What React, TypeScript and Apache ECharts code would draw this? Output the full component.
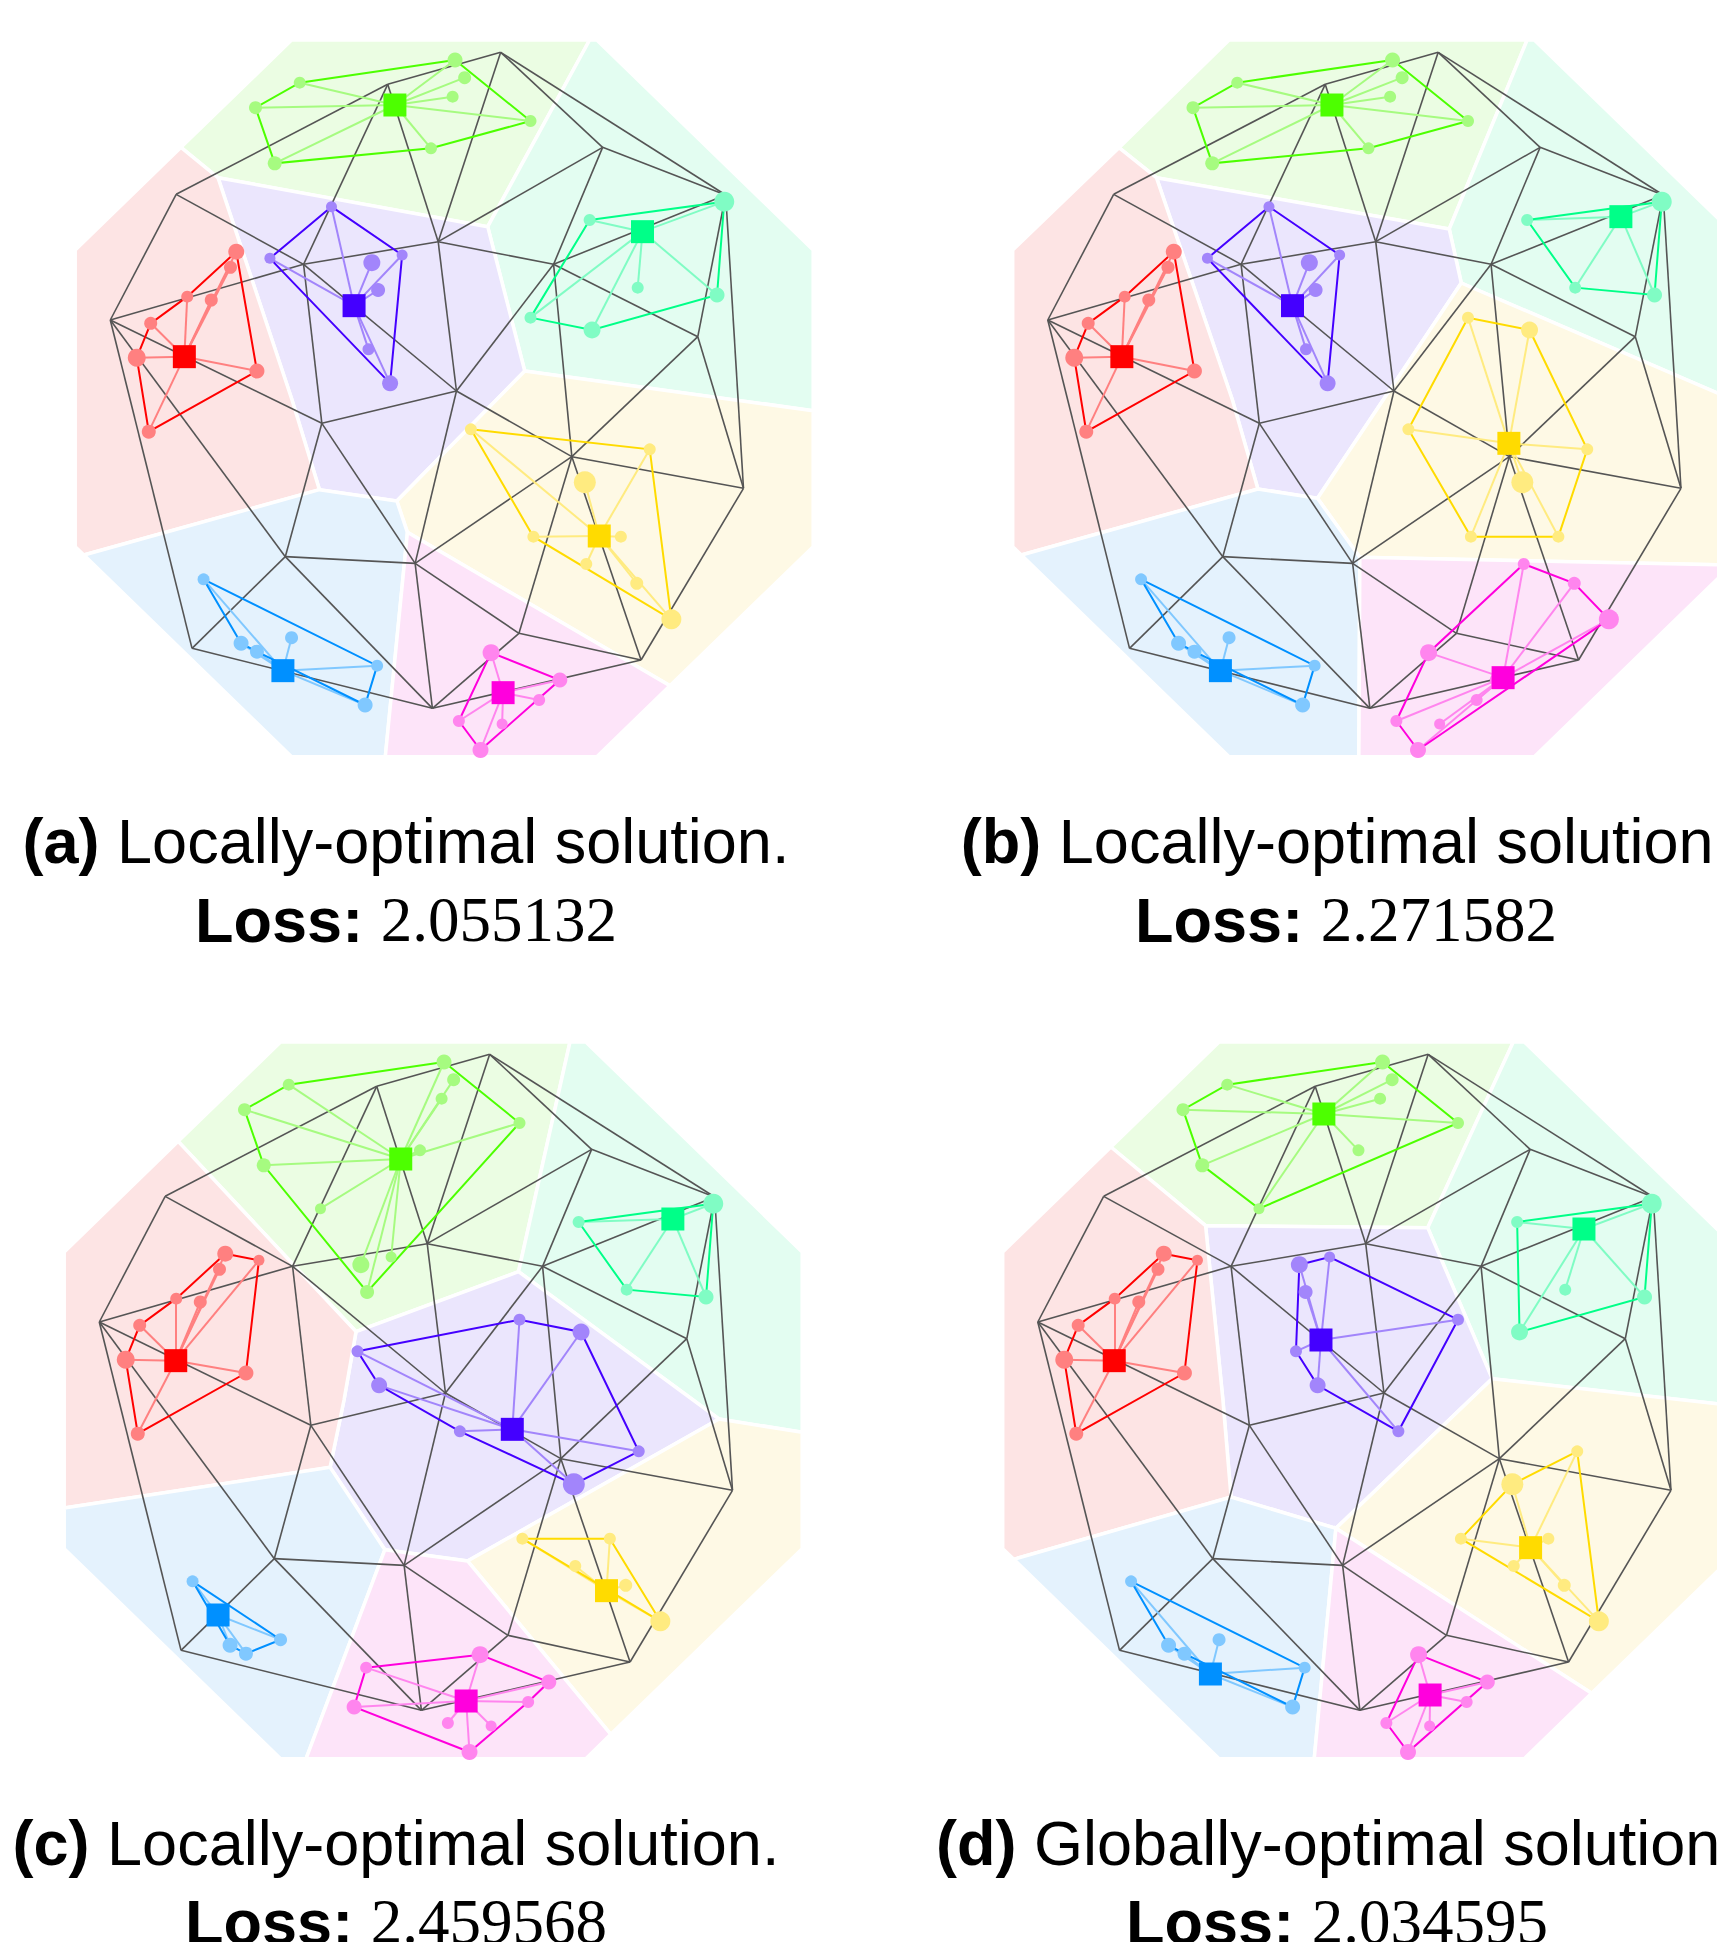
import React, { useEffect, useRef } from "react";
import * as echarts from "echarts";

// ---------------- shared geometry (panel frame units: x 0..1560, y 0..2190) ----------------
const MESH_NODES: [number, number][] = [
  [900, 52], [665, 148], [1112, 337], [225, 478], [1368, 480],
  [770, 620], [1010, 688], [490, 688], [88, 855], [1310, 905],
  [808, 1068], [528, 1165], [1048, 1265], [1405, 1360], [452, 1565],
  [722, 1585], [938, 1795], [258, 1840], [1192, 1875], [758, 2020],
];

const MESH_EDGES: [number, number][] = [
  [0, 1], [0, 2], [0, 4], [0, 5], [1, 3], [1, 5], [1, 7], [2, 4], [2, 5], [2, 6], [3, 7], [3, 8],
  [4, 6], [4, 9], [4, 13], [5, 6], [5, 7], [5, 10], [6, 9], [6, 10], [6, 12], [7, 8], [7, 10], [7, 11],
  [8, 11], [8, 14], [8, 17], [9, 12], [9, 13], [10, 11], [10, 12], [10, 15], [11, 14], [11, 15],
  [12, 13], [12, 15], [12, 16], [12, 18], [13, 18], [14, 15], [14, 17], [14, 19], [15, 16],
  [15, 19], [16, 18], [16, 19], [17, 19], [18, 19],
];

const POINTS: [number, number][] = [
  [805, 75], [482, 143], [825, 128], [800, 185], [390, 218], [962, 258], [755, 340], [430, 385],
  [548, 515], [420, 670], [695, 660], [632, 683], [645, 765], [625, 943], [670, 1045],
  [350, 650], [338, 697], [248, 785], [298, 795], [172, 865], [143, 968], [393, 1008], [168, 1190],
  [1365, 500], [1085, 555], [1185, 758], [1350, 780], [962, 848], [1090, 885],
  [838, 1183], [1210, 1243], [1075, 1342], [968, 1505], [1150, 1505], [1078, 1587], [1183, 1645], [1255, 1753],
  [282, 1633], [360, 1825], [393, 1850], [465, 1808], [643, 1892], [618, 2010],
  [880, 1853], [1023, 1935], [980, 1995], [903, 2067], [813, 2058], [858, 2145],
];

const POINT_WEIGHT: number[] = [
  15, 12, 13, 12, 13, 12, 12, 14,
  11, 11, 11, 17, 14, 12, 16,
  16, 13, 12, 13, 13, 18, 15, 14,
  20, 12, 12, 15, 12, 17,
  12, 12, 22, 12, 12, 12, 13, 20,
  12, 15, 14, 13, 12, 15,
  17, 15, 12, 11, 12, 16,
];

// cluster order: green, teal, purple, red, yellow, blue, pink
const BASE = ["#4dff00", "#00ff88", "#4400ff", "#ff0000", "#ffdb00", "#0090ff", "#ff00dd"];
const LIGHT = ["#a6fb80", "#80fcc4", "#a285fb", "#ff8080", "#ffeb80", "#80c8ff", "#ff85ee"];
const FILL = ["#ebfde3", "#e3fdf1", "#ebe6fd", "#fde4e4", "#fef9e5", "#e4f2fd", "#fde4f9"];

// ---------------- panel (a) ----------------
const A_MEMBERS = [
  [0, 1, 2, 3, 4, 5, 6, 7], [23, 24, 25, 26, 27, 28], [8, 9, 10, 11, 12, 13, 14],
  [15, 16, 17, 18, 19, 20, 21, 22], [29, 30, 31, 32, 33, 34, 35, 36], [37, 38, 39, 40, 41, 42],
  [43, 44, 45, 46, 47, 48],
];
const A_HULLS = [
  [0, 1, 4, 7, 6, 5], [24, 23, 26, 28, 27], [8, 10, 14, 9], [15, 21, 22, 20, 19, 17],
  [29, 30, 36, 32], [37, 41, 42, 39, 38], [43, 44, 48, 47],
];
const A_CENTERS: [number, number][] = [[680, 210], [1195, 590], [595, 812], [242, 965], [1105, 1503], [447, 1907], [905, 1973]];
const A_REGIONS: [number, number][][] = [
  [[465, 15], [1085, 15], [873, 575], [312, 428], [235, 337]],
  [[1085, 15], [1100, 15], [1550, 645], [1550, 1127], [950, 1008], [873, 575]],
  [[312, 428], [873, 575], [950, 1008], [684, 1398], [523, 1364], [466, 1095]],
  [[235, 337], [312, 428], [466, 1095], [523, 1364], [33, 1560], [15, 1535], [15, 645]],
  [[950, 1008], [1550, 1127], [1550, 1535], [1252, 1952], [706, 1492], [684, 1398]],
  [[33, 1560], [523, 1364], [684, 1398], [706, 1492], [660, 2165], [465, 2165]],
  [[706, 1492], [1252, 1952], [1100, 2165], [660, 2165]],
];

// ---------------- panel (b) ----------------
const B_MEMBERS = [
  [0, 1, 2, 3, 4, 5, 6, 7], [23, 24, 25, 26], [8, 9, 10, 11, 12, 13, 14],
  [15, 16, 17, 18, 19, 20, 21, 22], [27, 28, 29, 30, 31, 32, 33], [37, 38, 39, 40, 41, 42],
  [34, 35, 36, 43, 44, 45, 46, 47, 48],
];
const B_HULLS = [
  [0, 1, 4, 7, 6, 5], [24, 23, 26, 25], [8, 10, 14, 9], [15, 21, 22, 20, 19, 17],
  [27, 28, 30, 33, 32, 29], [37, 41, 42, 39, 38], [34, 35, 36, 48, 47, 43],
];
const B_CENTERS: [number, number][] = [[679, 210], [1280, 545], [597, 812], [242, 965], [1047, 1225], [447, 1907], [1035, 1928]];
const B_REGIONS: [number, number][][] = [
  [[465, 15], [1085, 15], [923, 582], [314, 428], [236, 338]],
  [[1085, 15], [1100, 15], [1550, 645], [1550, 1117], [948, 744], [923, 582]],
  [[314, 428], [923, 582], [948, 744], [649, 1390], [525, 1362], [472, 1095]],
  [[236, 338], [314, 428], [472, 1095], [525, 1362], [33, 1560], [15, 1535], [15, 645]],
  [[948, 744], [1550, 1117], [1550, 1535], [1511, 1590], [737, 1567], [649, 1390]],
  [[33, 1560], [525, 1362], [649, 1390], [737, 1567], [735, 2165], [465, 2165]],
  [[737, 1567], [1511, 1590], [1100, 2165], [735, 2165]],
];

// ---------------- panel (c) ----------------
const C_MEMBERS = [
  [0, 1, 2, 3, 4, 5, 6, 7, 8, 10, 11, 12], [23, 24, 25, 26], [13, 14, 27, 28, 29, 30, 31],
  [9, 15, 16, 17, 18, 19, 20, 21, 22], [32, 33, 34, 35, 36], [37, 38, 39, 40],
  [41, 42, 43, 44, 45, 46, 47, 48],
];
const C_HULLS = [
  [0, 1, 4, 7, 12, 5], [24, 23, 26, 25], [13, 27, 28, 30, 31, 29, 14], [15, 9, 21, 22, 20, 19, 17],
  [32, 33, 36], [37, 40, 39, 38], [41, 43, 44, 45, 48, 42],
];
const C_CENTERS: [number, number][] = [[715, 366], [1281, 546], [947, 1177], [247, 971], [1143, 1661], [335, 1734], [851, 1992]];
const C_REGIONS: [number, number][][] = [
  [[465, 15], [1067, 15], [960, 704], [622, 884], [252, 313]],
  [[1067, 15], [1100, 15], [1550, 645], [1550, 1186], [1377, 1146], [960, 704]],
  [[622, 884], [960, 704], [1377, 1146], [854, 1572], [682, 1538], [568, 1291], [597, 1089]],
  [[252, 313], [622, 884], [597, 1089], [568, 1291], [15, 1413], [15, 645]],
  [[1377, 1146], [1550, 1186], [1550, 1535], [1152, 2092], [854, 1572]],
  [[15, 1413], [568, 1291], [682, 1538], [518, 2165], [465, 2165], [15, 1535]],
  [[682, 1538], [854, 1572], [1152, 2092], [1100, 2165], [518, 2165]],
];

// ---------------- panel (d) ----------------
const D_MEMBERS = [
  [0, 1, 2, 3, 4, 5, 6, 7, 8], [23, 24, 25, 26, 28], [10, 11, 12, 13, 14, 27, 29],
  [9, 15, 16, 17, 18, 19, 20, 21, 22], [30, 31, 32, 33, 34, 35, 36], [37, 38, 39, 40, 41, 42],
  [43, 44, 45, 46, 47, 48],
];
const D_HULLS = [
  [0, 1, 4, 7, 8, 5], [24, 23, 26, 28], [11, 10, 27, 29, 14, 13], [15, 9, 21, 22, 20, 19, 17],
  [30, 36, 32, 31], [37, 41, 42, 39, 38], [43, 44, 48, 47],
];
const D_CENTERS: [number, number][] = [[683, 231], [1224, 576], [677, 909], [247, 971], [1113, 1532], [447, 1911], [904, 1974]];
const D_REGIONS: [number, number][][] = [
  [[465, 15], [1077, 15], [899, 572], [437, 566], [240, 330]],
  [[1077, 15], [1100, 15], [1550, 645], [1550, 1108], [1033, 1025], [899, 572]],
  [[437, 566], [899, 572], [1033, 1025], [708, 1474], [490, 1380], [473, 1089]],
  [[240, 330], [437, 566], [473, 1089], [490, 1380], [38, 1567], [15, 1535], [15, 645]],
  [[1033, 1025], [1550, 1108], [1550, 1535], [1240, 1969], [708, 1474]],
  [[38, 1567], [490, 1380], [708, 1474], [663, 2165], [465, 2165]],
  [[708, 1474], [1240, 1969], [1100, 2165], [663, 2165]],
];

// ---------------- captions ----------------
const CAPTION_LABELS = ["(a)", "(b)", "(c)", "(d)"];
const CAPTION_TEXTS = [
  "Locally-optimal solution.",
  "Locally-optimal solution.",
  "Locally-optimal solution.",
  "Globally-optimal solution.",
];
const LOSSES = ["2.055132", "2.271582", "2.459568", "2.034595"];

// ---------------- layout ----------------
const GRID_POS: [number, number][] = [[68, 35], [1005.5, 35], [57, 1037], [995.5, 1037]];
const GRID_W = 750;
const GRID_H = 730;
const FRAME_X = 1560;
const FRAME_Y = 2190;
const CAPTION_POS: [number, number, number][] = [
  [406, 841, 920],
  [1346, 841, 920],
  [396, 1843, 1922],
  [1337, 1843, 1922],
];
const FONT_SIZE = 63;

function buildOption() {
  const panels = [
    { members: A_MEMBERS, hulls: A_HULLS, centers: A_CENTERS, regions: A_REGIONS },
    { members: B_MEMBERS, hulls: B_HULLS, centers: B_CENTERS, regions: B_REGIONS },
    { members: C_MEMBERS, hulls: C_HULLS, centers: C_CENTERS, regions: C_REGIONS },
    { members: D_MEMBERS, hulls: D_HULLS, centers: D_CENTERS, regions: D_REGIONS },
  ];
  const grid = GRID_POS.map(([left, top]) => ({
    left,
    top,
    width: GRID_W,
    height: GRID_H,
    containLabel: false,
    outerBoundsMode: "none",
  }));
  const xAxis = GRID_POS.map((_, i) => ({ gridIndex: i, type: "value", min: 0, max: FRAME_X, show: false }));
  const yAxis = GRID_POS.map((_, i) => ({ gridIndex: i, type: "value", min: 0, max: FRAME_Y, inverse: true, show: false }));
  const series: any[] = [];
  panels.forEach((pan, i) => {
    series.push({
      type: "custom",
      xAxisIndex: i,
      yAxisIndex: i,
      z: 1,
      silent: true,
      clip: false,
      data: pan.regions.map((poly, k) => [poly[0][0], poly[0][1], k]),
      renderItem: (_params: any, api: any) => {
        const k = api.value(2);
        const poly = pan.regions[k];
        return {
          type: "polygon",
          shape: { points: poly.map((p) => api.coord(p)) },
          style: { fill: FILL[k], stroke: "#ffffff", lineWidth: 3.5 },
        };
      },
    });
    series.push({
      type: "lines",
      coordinateSystem: "cartesian2d",
      xAxisIndex: i,
      yAxisIndex: i,
      z: 2,
      silent: true,
      lineStyle: { color: "#555555", width: 1.6, opacity: 1, curveness: 0 },
      data: MESH_EDGES.map(([a, b]) => ({ coords: [MESH_NODES[a], MESH_NODES[b]] })),
    });
    series.push({
      type: "lines",
      coordinateSystem: "cartesian2d",
      xAxisIndex: i,
      yAxisIndex: i,
      z: 3,
      silent: true,
      lineStyle: { width: 2, opacity: 1, curveness: 0 },
      data: pan.members.flatMap((mem, k) =>
        mem.map((m) => ({ coords: [pan.centers[k], POINTS[m]], lineStyle: { color: LIGHT[k] } }))
      ),
    });
    series.push({
      type: "lines",
      coordinateSystem: "cartesian2d",
      polyline: true,
      xAxisIndex: i,
      yAxisIndex: i,
      z: 4,
      silent: true,
      lineStyle: { width: 2, opacity: 1, curveness: 0 },
      data: pan.hulls.map((h, k) => ({
        coords: [...h, h[0]].map((m) => POINTS[m]),
        lineStyle: { color: BASE[k] },
      })),
    });
    series.push({
      type: "scatter",
      xAxisIndex: i,
      yAxisIndex: i,
      z: 5,
      silent: true,
      symbol: "circle",
      data: pan.members.flatMap((mem, k) =>
        mem.map((m) => ({
          value: POINTS[m],
          symbolSize: POINT_WEIGHT[m],
          itemStyle: { color: LIGHT[k], opacity: 1 },
        }))
      ),
    });
    series.push({
      type: "scatter",
      xAxisIndex: i,
      yAxisIndex: i,
      z: 6,
      silent: true,
      symbol: "rect",
      symbolSize: 23,
      data: pan.centers.map((c, k) => ({ value: c, itemStyle: { color: BASE[k], opacity: 1 } })),
    });
  });

  const graphic: any[] = [];
  CAPTION_LABELS.forEach((lab, i) => {
    const [cx, y1, y2] = CAPTION_POS[i];
    graphic.push({
      type: "text",
      x: cx,
      y: y1,
      silent: true,
      style: {
        text: `{b|${lab}} ${CAPTION_TEXTS[i]}`,
        align: "center",
        verticalAlign: "middle",
        fontSize: FONT_SIZE,
        fontFamily: "Liberation Sans",
        fill: "#000000",
        rich: {
          b: { fontSize: FONT_SIZE, fontFamily: "Liberation Sans", fontWeight: "bold", fill: "#000000" },
        },
      },
    });
    graphic.push({
      type: "text",
      x: cx,
      y: y2,
      silent: true,
      style: {
        text: `{b|Loss:} {n|${LOSSES[i]}}`,
        align: "center",
        verticalAlign: "middle",
        fontSize: FONT_SIZE,
        fontFamily: "Liberation Sans",
        fill: "#000000",
        rich: {
          b: { fontSize: FONT_SIZE, fontFamily: "Liberation Sans", fontWeight: "bold", fill: "#000000" },
          n: { fontSize: FONT_SIZE, fontFamily: "Liberation Serif", fill: "#000000" },
        },
      },
    });
  });

  return {
    animation: false,
    backgroundColor: "#ffffff",
    grid,
    xAxis,
    yAxis,
    series,
    graphic,
  };
}

export default function App() {
  const ref = useRef<HTMLDivElement>(null);
  useEffect(() => {
    document.body.style.margin = "0";
    if (!ref.current) return;
    const chart = echarts.init(ref.current, undefined, { renderer: "svg" });
    chart.setOption(buildOption() as any);
    return () => chart.dispose();
  }, []);
  return <div ref={ref} style={{ width: 1717, height: 1942 }} />;
}
